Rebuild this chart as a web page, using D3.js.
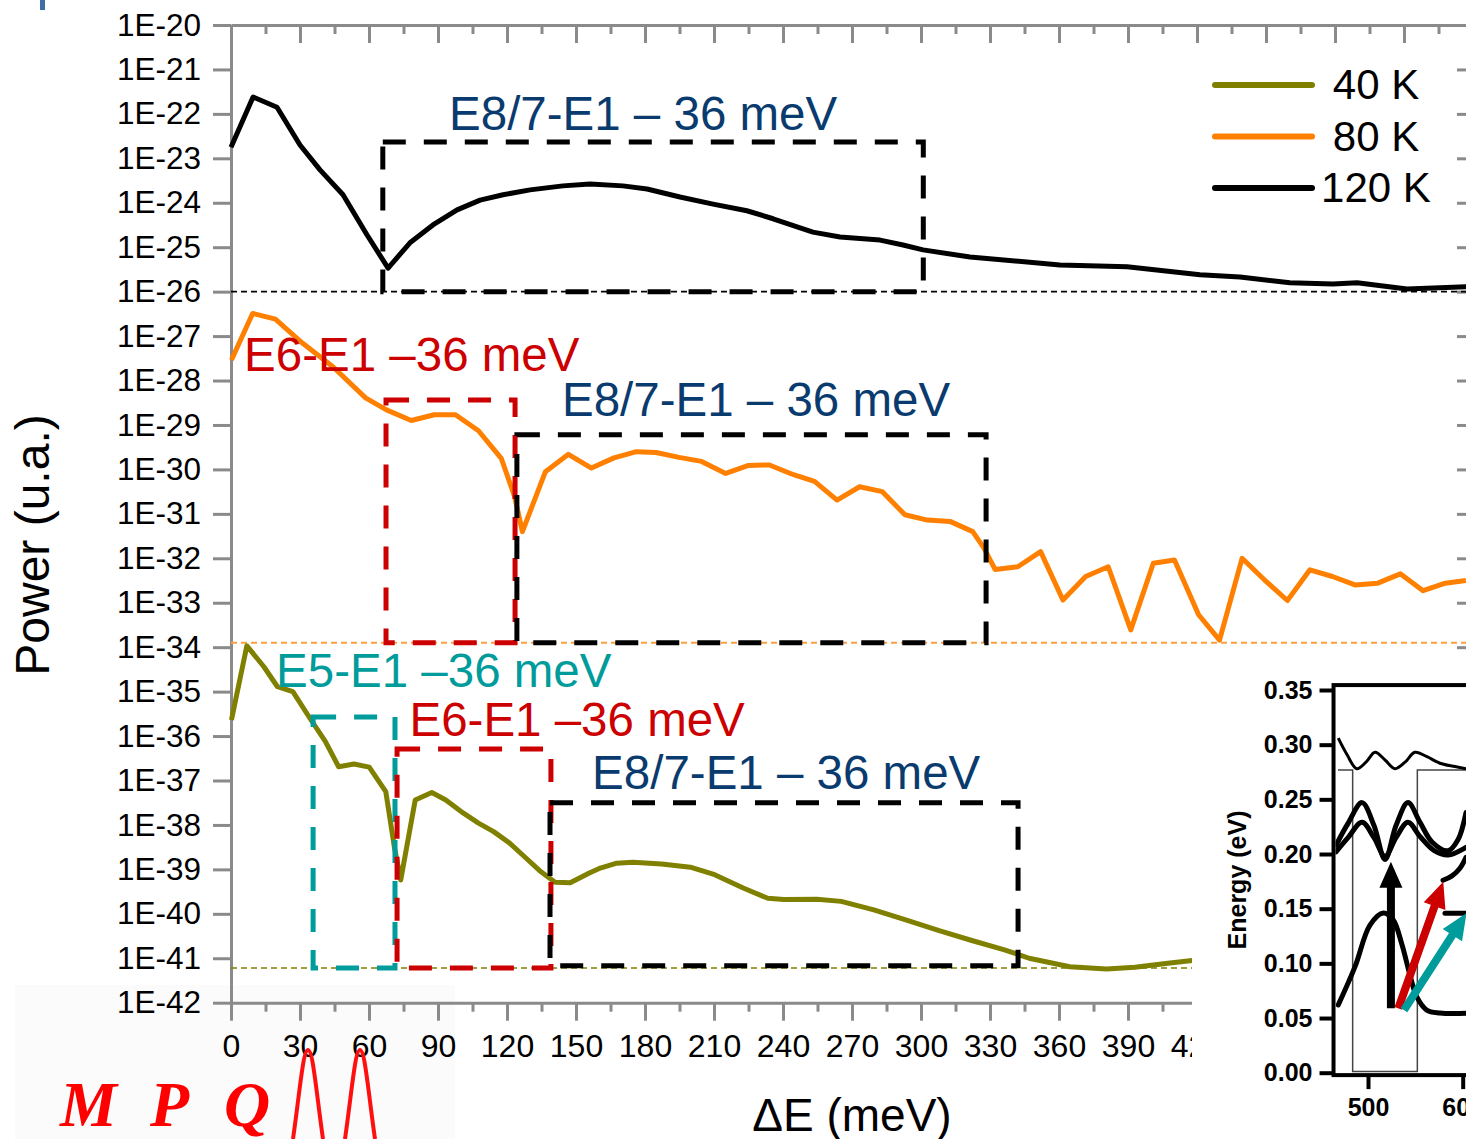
<!DOCTYPE html>
<html>
<head>
<meta charset="utf-8">
<script src="https://cdn.jsdelivr.net/npm/d3@7"></script>
<style>
  html, body { margin: 0; padding: 0; background: #fff; }
  svg { display: block; font-family: "Liberation Sans", Arial, sans-serif; }
</style>
</head>
<body>
<svg id="chart" width="1466" height="1139"></svg>
<script>
// ---------------- data: power spectra (ΔE in meV, power as log10 exponent) ----------------
const dE120 = [0, 9.6, 20, 30, 38.7, 48.7, 59.1, 68.3, 77.8, 87.8, 98.3, 108.3, 118.3, 130, 144.3, 156.1, 170.4, 180.9, 195.2, 209.6, 224.3, 235.7, 253, 264.8, 282.2, 292.2, 300.9, 321.3, 360.4, 389.6, 421.3, 438.7, 460.4, 479.1, 489.6, 511.3, 537.4];
const logP120 = [-22.75, -21.62, -21.85, -22.70, -23.26, -23.82, -24.72, -25.47, -24.90, -24.50, -24.16, -23.94, -23.82, -23.71, -23.62, -23.58, -23.62, -23.69, -23.87, -24.03, -24.18, -24.36, -24.66, -24.77, -24.84, -24.95, -25.06, -25.22, -25.40, -25.44, -25.62, -25.67, -25.80, -25.83, -25.80, -25.94, -25.89];

const dE80 = [0.2, 9.4, 19.3, 30.9, 44.3, 58.5, 67.6, 78.4, 88.4, 97.6, 107.6, 117.5, 123.3, 126.7, 136.7, 146.7, 156.7, 166.5, 176.3, 184.8, 194.8, 204.6, 215.1, 225, 234.1, 244.6, 253.7, 263.5, 273.3, 283.2, 293, 302.8, 312.6, 322.5, 327.4, 332.2, 342.1, 352, 361.7, 371.6, 381.4, 391.2, 401, 410.2, 420.7, 429.8, 439.6, 449.4, 459.3, 469.1, 478.9, 488.7, 498.6, 508.4, 518.3, 528, 536.9];
const logP80 = [-27.54, -26.49, -26.62, -27.15, -27.69, -28.39, -28.66, -28.90, -28.77, -28.77, -29.13, -29.75, -30.61, -31.40, -30.05, -29.66, -29.97, -29.74, -29.60, -29.62, -29.73, -29.82, -30.09, -29.91, -29.90, -30.12, -30.27, -30.69, -30.39, -30.50, -31.02, -31.14, -31.17, -31.40, -31.77, -32.25, -32.19, -31.85, -32.94, -32.41, -32.19, -33.61, -32.11, -32.04, -33.27, -33.84, -32.00, -32.49, -32.95, -32.26, -32.41, -32.60, -32.56, -32.35, -32.73, -32.56, -32.50];

const dE40 = [0.2, 6.9, 14.3, 20.2, 26.9, 34.3, 41, 46.8, 53.5, 60.1, 67.3, 71, 73.8, 80.1, 87.3, 93.4, 100.9, 107.6, 114.2, 120.9, 127.5, 134.2, 140.9, 147.5, 155.8, 160.6, 167.7, 174.8, 187.2, 199.7, 210.3, 222.7, 233.4, 240.4, 254.7, 265.3, 279.5, 293.7, 307.9, 322.1, 336.3, 347, 364.7, 380.7, 393, 407.3, 417.9];
const logP40 = [-35.64, -33.97, -34.44, -34.89, -35.00, -35.60, -36.12, -36.69, -36.63, -36.70, -37.25, -38.49, -39.24, -37.44, -37.27, -37.44, -37.73, -37.96, -38.15, -38.40, -38.71, -39.03, -39.29, -39.30, -39.08, -38.97, -38.86, -38.84, -38.88, -38.95, -39.12, -39.42, -39.65, -39.68, -39.67, -39.72, -39.91, -40.14, -40.38, -40.60, -40.81, -41.00, -41.19, -41.24, -41.20, -41.11, -41.05];

// noise floor of each spectrum (log10)
const seriesNames = ["40 K", "80 K", "120 K"];
const floorLog = [-41.22, -33.9, -26.0];

// transition windows: [start meV, end meV, top log10, floor log10]
const boxKind  = ["E8/7", "E6", "E8/7", "E5", "E6", "E8/7"];
const boxStart = [66, 67.4, 124.3, 35.7, 72.2, 138.7];
const boxEnd   = [301, 123.5, 328.3, 71.3, 139.1, 342.2];
const boxTop   = [-22.63, -28.44, -29.22, -35.57, -36.29, -37.5];
const boxFloor = [-26.0, -33.9, -33.9, -41.22, -41.22, -41.17];

// transition labels and their anchor (meV, log10)
const labelText = ["E8/7-E1 – 36 meV", "E6-E1 –36 meV", "E8/7-E1 – 36 meV", "E5-E1 –36 meV", "E6-E1 –36 meV", "E8/7-E1 – 36 meV"];
const labelKind = ["E8/7", "E6", "E8/7", "E5", "E6", "E8/7"];
const labelX = [94.8, 5.7, 143.9, 19.6, 77.6, 157];
const labelY = [-22.36, -27.78, -28.80, -34.89, -36.01, -37.20];

// axis ticks
const xMajor = d3.range(0, 541, 30);
const xMinor = d3.range(15, 541, 30);
const xLabelled = d3.range(0, 421, 30);
const decades = d3.range(-20, -43, -1);

// ---------------- inset: band profile (position, energy eV) ----------------
const wellProfile = [[468.3, 0.2768], [483.8, 0.2768], [483.8, 0.001], [552.1, 0.001], [552.1, 0.2768], [615, 0.2768]];
const stateHigh = [[468.6, 0.306], [477.8, 0.291], [488.1, 0.278], [497.9, 0.284], [507.4, 0.293], [518, 0.286], [528.5, 0.278], [539.1, 0.284], [549.6, 0.293], [562.3, 0.289], [576, 0.283], [591.9, 0.280], [603.5, 0.278]];
const stateE8 = [[466.2, 0.208], [478.9, 0.228], [493.7, 0.247], [506.3, 0.226], [518, 0.195], [529.6, 0.226], [542.2, 0.247], [554.9, 0.229], [567.6, 0.211], [584.5, 0.203], [595, 0.213], [603.5, 0.238]];
const stateE7 = [[466.2, 0.202], [478.9, 0.215], [493.7, 0.229], [506.3, 0.215], [518, 0.198], [529.6, 0.215], [542.2, 0.229], [554.9, 0.216], [570, 0.203], [584.5, 0.199], [603.5, 0.206]];
const stateE6 = [[579.2, 0.176], [588.7, 0.180], [597.1, 0.187], [603.5, 0.197]];
const stateE5 = [[581.3, 0.1458], [606, 0.1458]];
const stateE1 = [[468.6, 0.062], [486.3, 0.097], [502.1, 0.135], [516.2, 0.146], [526.4, 0.140], [535.6, 0.118], [544.4, 0.089], [551.4, 0.0695], [562, 0.0573], [576, 0.0546], [603.5, 0.0543]];
const arrowKind = ["E8/7", "E6", "E5"];
const arrowFrom = [[524.2, 0.0589], [532, 0.0589], [538, 0.0573]];
const arrowTo   = [[524.2, 0.193], [579.5, 0.1747], [604, 0.1458]];
const insetYTicks = [0, 0.05, 0.10, 0.15, 0.20, 0.25, 0.30, 0.35];
const insetXTicks = [500, 600];

// ---------------- styles ----------------
const seriesColor = { "40 K": "#808000", "80 K": "#ff8000", "120 K": "#000000" };
const floorColor  = { "40 K": "#808000", "80 K": "#ffa040", "120 K": "#000000" };
const boxColor    = { "E8/7": "#000000", "E6": "#cc0000", "E5": "#009b9b" };
const labelColor  = { "E8/7": "#0a3b6e", "E6": "#cc0000", "E5": "#009b9b" };
const axisGray = "#8a8a8a";

const svg = d3.select("#chart");
const P = e => Math.pow(10, e);

const x = d3.scaleLinear().domain([0, 540]).range([231, 1473]);
const y = d3.scaleLog().domain([1e-42, 1e-20]).range([1002.7, 25]);

// faint backdrop of the institute logo
svg.append("rect").attr("x", 15).attr("y", 985).attr("width", 440).attr("height", 154).attr("fill", "#fbfbfb");
svg.append("rect").attr("x", 40).attr("y", 0).attr("width", 5).attr("height", 10).attr("fill", "#3d6ea6");

// ---------------- axes ----------------
function paint(g, fontSize) {
  g.selectAll("path, line").attr("stroke", axisGray).attr("stroke-width", 3);
  g.attr("font-size", fontSize).attr("font-family", '"Liberation Sans", Arial, sans-serif');
  g.selectAll("text").attr("fill", "#000");
}

const gBottom = svg.append("g").attr("transform", "translate(0,1002.7)")
  .call(d3.axisBottom(x).tickValues(xLabelled).tickSize(18).tickSizeOuter(0).tickPadding(14).tickFormat(d3.format("d")));
paint(gBottom, 32);
const gBottomRest = svg.append("g").attr("transform", "translate(0,1002.7)")
  .call(d3.axisBottom(x).tickValues(xMajor.filter(v => v > 420)).tickSize(18).tickFormat(""));
gBottomRest.select(".domain").remove();
paint(gBottomRest, 10);
const gBottomMinor = svg.append("g").attr("transform", "translate(0,1002.7)")
  .call(d3.axisBottom(x).tickValues(xMinor).tickSize(9).tickFormat(""));
gBottomMinor.select(".domain").remove();
paint(gBottomMinor, 10);

const gTop = svg.append("g").attr("transform", "translate(0,25)")
  .call(d3.axisTop(x).tickValues(xMajor).tickSize(-18).tickSizeOuter(0).tickFormat(""));
paint(gTop, 10);
const gTopMinor = svg.append("g").attr("transform", "translate(0,25)")
  .call(d3.axisTop(x).tickValues(xMinor).tickSize(-9).tickFormat(""));
gTopMinor.select(".domain").remove();
paint(gTopMinor, 10);

const gLeft = svg.append("g").attr("transform", "translate(231,0)")
  .call(d3.axisLeft(y).tickValues(decades.map(P)).tickSize(18).tickSizeOuter(0).tickPadding(12)
    .tickFormat(d => "1E" + Math.round(Math.log10(d))));
paint(gLeft, 31.5);

const gRight = svg.append("g").attr("transform", `translate(${x(540)},0)`)
  .call(d3.axisRight(y).tickValues(decades.map(P)).tickSize(-16).tickSizeOuter(0).tickFormat(""));
paint(gRight, 10);

// axis titles
svg.append("text").attr("transform", "translate(49,545) rotate(-90)")
  .attr("text-anchor", "middle").attr("font-size", 48).attr("fill", "#000").text("Power (u.a.)");
svg.append("text").attr("x", 852).attr("y", 1131)
  .attr("text-anchor", "middle").attr("font-size", 46).attr("fill", "#000").text("ΔE (meV)");

// ---------------- noise floors ----------------
seriesNames.forEach((name, i) => {
  svg.append("line")
    .attr("x1", x(0)).attr("x2", x(540))
    .attr("y1", y(P(floorLog[i]))).attr("y2", y(P(floorLog[i])))
    .attr("stroke", floorColor[name]).attr("stroke-width", name === "80 K" ? 2 : 1.6)
    .attr("stroke-dasharray", "6,4");
});

// ---------------- spectra ----------------
const spectra = [
  { name: "120 K", dE: dE120, lp: logP120 },
  { name: "80 K",  dE: dE80,  lp: logP80 },
  { name: "40 K",  dE: dE40,  lp: logP40 }
];
const specLine = d3.line().x(d => x(d[0])).y(d => y(P(d[1])));
spectra.forEach(s => {
  const pts = s.dE.map((v, i) => [v, s.lp[i]]);
  svg.append("path").datum(pts).attr("d", specLine)
    .attr("fill", "none").attr("stroke", seriesColor[s.name])
    .attr("stroke-width", 5).attr("stroke-linejoin", "round");
});

// ---------------- transition windows ----------------
boxKind.forEach((k, i) => {
  const x0 = x(boxStart[i]), x1 = x(boxEnd[i]);
  const yt = y(P(boxTop[i])), yb = y(P(boxFloor[i]));
  svg.append("rect").attr("x", x0).attr("y", yt).attr("width", x1 - x0).attr("height", yb - yt)
    .attr("fill", "none").attr("stroke", boxColor[k]).attr("stroke-width", 5)
    .attr("stroke-dasharray", "23,18");
});

labelText.forEach((t, i) => {
  svg.append("text").attr("x", x(labelX[i])).attr("y", y(P(labelY[i])))
    .attr("font-size", 47.5).attr("fill", labelColor[labelKind[i]]).text(t);
});

// ---------------- legend ----------------
const legendRows = ["40 K", "80 K", "120 K"];
const legendY = d3.scalePoint().domain(legendRows).range([85, 188]);
legendRows.forEach(name => {
  const ly = legendY(name);
  svg.append("line").attr("x1", 1215).attr("x2", 1312).attr("y1", ly).attr("y2", ly)
    .attr("stroke", seriesColor[name]).attr("stroke-width", 6).attr("stroke-linecap", "round");
  svg.append("text").attr("x", 1376).attr("y", ly + 14).attr("text-anchor", "middle")
    .attr("font-size", 42).attr("fill", "#000").text(name);
});

// ---------------- inset: conduction band diagram ----------------
svg.append("rect").attr("x", 1192).attr("y", 652).attr("width", 274).attr("height", 487).attr("fill", "#fff");

const xi = d3.scaleLinear().domain([500, 600]).range([1368, 1462.7]);
const yi = d3.scaleLinear().domain([0, 0.35]).range([1072.7, 690]);
const frameL = xi(463.6), frameT = yi(0.3545), frameB = yi(-0.0022);

const defs = svg.append("defs");
defs.append("clipPath").attr("id", "insetClip").append("rect")
  .attr("x", frameL + 2).attr("y", frameT + 2).attr("width", 1466 - frameL).attr("height", frameB - frameT - 4);

const inset = svg.append("g").attr("clip-path", "url(#insetClip)");
const iLine = d3.line().x(d => xi(d[0])).y(d => yi(d[1]));
const iSmooth = d3.line().x(d => xi(d[0])).y(d => yi(d[1])).curve(d3.curveCatmullRom.alpha(0.5));

inset.append("path").datum(wellProfile).attr("d", iLine)
  .attr("fill", "none").attr("stroke", "#444").attr("stroke-width", 1.5);
inset.append("path").datum(stateHigh).attr("d", iSmooth)
  .attr("fill", "none").attr("stroke", "#000").attr("stroke-width", 3);
[stateE8, stateE7, stateE6, stateE1, stateE5].forEach(s => {
  inset.append("path").datum(s).attr("d", iSmooth)
    .attr("fill", "none").attr("stroke", "#000").attr("stroke-width", 5).attr("stroke-linecap", "round");
});

function arrowPoints(x1, y1, x2, y2, shaft, headW, headL) {
  const dx = x2 - x1, dy = y2 - y1, L = Math.hypot(dx, dy);
  const ux = dx / L, uy = dy / L, nx = -uy, ny = ux;
  const bx = x2 - ux * headL, by = y2 - uy * headL;
  return [
    [x1 + nx * shaft / 2, y1 + ny * shaft / 2],
    [bx + nx * shaft / 2, by + ny * shaft / 2],
    [bx + nx * headW / 2, by + ny * headW / 2],
    [x2, y2],
    [bx - nx * headW / 2, by - ny * headW / 2],
    [bx - nx * shaft / 2, by - ny * shaft / 2],
    [x1 - nx * shaft / 2, y1 - ny * shaft / 2]
  ];
}
arrowKind.forEach((k, i) => {
  const pts = arrowPoints(xi(arrowFrom[i][0]), yi(arrowFrom[i][1]), xi(arrowTo[i][0]), yi(arrowTo[i][1]), 8, 23, 26);
  inset.append("polygon").attr("points", pts.map(p => p.join(",")).join(" "))
    .attr("fill", boxColor[k]);
});

// inset frame and axes
svg.append("rect").attr("x", frameL).attr("y", frameT).attr("width", 400).attr("height", frameB - frameT)
  .attr("fill", "none").attr("stroke", "#000").attr("stroke-width", 4);

const giLeft = svg.append("g").attr("transform", `translate(${frameL},0)`)
  .call(d3.axisLeft(yi).tickValues(insetYTicks).tickSize(14).tickPadding(7).tickFormat(d3.format(".2f")));
giLeft.select(".domain").remove();
giLeft.selectAll("line").attr("stroke", "#000").attr("stroke-width", 4);
giLeft.attr("font-size", 25).attr("font-weight", "bold").attr("font-family", '"Liberation Sans", Arial, sans-serif');
giLeft.selectAll("text").attr("fill", "#000");

const giBottom = svg.append("g").attr("transform", `translate(0,${frameB})`)
  .call(d3.axisBottom(xi).tickValues(insetXTicks).tickSize(14).tickPadding(9).tickFormat(d3.format("d")));
giBottom.select(".domain").remove();
giBottom.selectAll("line").attr("stroke", "#000").attr("stroke-width", 4);
giBottom.attr("font-size", 25).attr("font-weight", "bold").attr("font-family", '"Liberation Sans", Arial, sans-serif');
giBottom.selectAll("text").attr("fill", "#000");

svg.append("text").attr("transform", "translate(1246,880) rotate(-90)")
  .attr("text-anchor", "middle").attr("font-size", 25).attr("font-weight", "bold")
  .attr("fill", "#000").text("Energy (eV)");

// ---------------- institute logo ----------------
const logo = svg.append("g");
[["M", 60], ["P", 150], ["Q", 224]].forEach(([ch, lx]) => {
  logo.append("text").attr("x", lx).attr("y", 1126)
    .attr("font-family", '"Liberation Serif", "Times New Roman", serif')
    .attr("font-weight", "bold").attr("font-style", "italic")
    .attr("font-size", 64).attr("fill", "#ff0000").text(ch);
});
[308, 360].forEach(cx => {
  const p = d3.path();
  p.moveTo(cx - 15, 1139);
  p.bezierCurveTo(cx - 8, 1090, cx - 5, 1050, cx, 1050);
  p.bezierCurveTo(cx + 5, 1050, cx + 8, 1090, cx + 15, 1139);
  logo.append("path").attr("d", p.toString()).attr("fill", "none")
    .attr("stroke", "#ff1010").attr("stroke-width", 4);
});
</script>
</body>
</html>
